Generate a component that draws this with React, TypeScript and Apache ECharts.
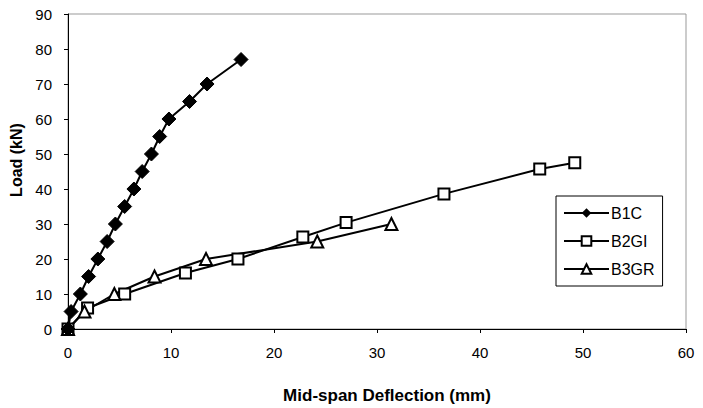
import React, { useEffect, useRef } from "react";
import * as echarts from "echarts";

const seriesNames = ["B1C", "B2GI", "B3GR"];

const b1cDeflection = [0, 0.3, 1.2, 2.0, 2.9, 3.8, 4.6, 5.5, 6.4, 7.2, 8.1, 8.9, 9.8, 11.8, 13.5, 16.8];
const b1cLoad = [0, 5, 10, 15, 20, 25, 30, 35, 40, 45, 50, 55, 60, 65, 70, 77];

const b2giDeflection = [0, 1.9, 5.5, 11.4, 16.5, 22.8, 27.0, 36.5, 45.8, 49.2];
const b2giLoad = [0, 6, 10, 16, 20, 26.3, 30.4, 38.6, 45.7, 47.5];

const b3grDeflection = [0, 1.6, 4.5, 8.4, 13.4, 24.2, 31.4];
const b3grLoad = [0, 5, 10, 15, 20, 25, 30];

const xTitle = "Mid-span Deflection (mm)";
const yTitle = "Load (kN)";

const pair = (xs: number[], ys: number[]) => xs.map((x, i) => [x, ys[i]]);

export default function App() {
  const ref = useRef<HTMLDivElement>(null);
  useEffect(() => {
    if (!ref.current) return;
    const chart = echarts.init(ref.current, null, { renderer: "svg" });
    const font = "'Liberation Sans', Arial, sans-serif";
    const lineStyle = { color: "#000", width: 2 };
    chart.setOption({
      animation: false,
      backgroundColor: "#fff",
      textStyle: { fontFamily: font },
      grid: {
        left: 68,
        right: 17,
        top: 14,
        bottom: 79,
        show: true,
        borderColor: "#999",
        borderWidth: 1,
      },
      xAxis: {
        type: "value",
        min: 0,
        max: 60,
        interval: 10,
        axisLine: { show: true, onZero: false, lineStyle: { color: "#000", width: 1 } },
        axisTick: { show: true, length: 4, lineStyle: { color: "#000" } },
        axisLabel: { color: "#000", fontSize: 15, margin: 16, fontFamily: font },
        splitLine: { show: false },
      },
      yAxis: {
        type: "value",
        min: 0,
        max: 90,
        interval: 10,
        axisLine: { show: true, onZero: false, lineStyle: { color: "#000", width: 1 } },
        axisTick: { show: true, length: 4, lineStyle: { color: "#000" } },
        axisLabel: { color: "#000", fontSize: 15, margin: 16, fontFamily: font },
        splitLine: { show: false },
      },
      legend: {
        orient: "vertical",
        left: 556,
        top: 196,
        data: seriesNames,
        itemWidth: 45,
        itemHeight: 12,
        itemGap: 12,
        padding: [9, 8, 9, 7],
        borderColor: "#000",
        borderWidth: 1,
        backgroundColor: "#fff",
        textStyle: { color: "#000", fontSize: 16, fontFamily: font, padding: [0, 0, 0, -3] },
      },
      graphic: [
        {
          type: "text",
          x: 387,
          y: 395,
          style: {
            text: xTitle,
            font: `bold 17px ${font}`,
            fill: "#000",
            align: "center",
            verticalAlign: "middle",
          },
        },
        {
          type: "text",
          x: 16,
          y: 160,
          rotation: Math.PI / 2,
          style: {
            text: yTitle,
            font: `bold 16px ${font}`,
            fill: "#000",
            align: "center",
            verticalAlign: "middle",
          },
        },
      ],
      series: [
        {
          name: seriesNames[0],
          type: "line",
          data: pair(b1cDeflection, b1cLoad),
          symbol: "diamond",
          symbolSize: 14,
          itemStyle: { color: "#000", borderColor: "#000" },
          lineStyle,
          z: 3,
        },
        {
          name: seriesNames[1],
          type: "line",
          data: pair(b2giDeflection, b2giLoad),
          symbol: "rect",
          symbolSize: 11,
          itemStyle: { color: "#fff", borderColor: "#000", borderWidth: 2 },
          lineStyle,
          z: 2,
        },
        {
          name: seriesNames[2],
          type: "line",
          data: pair(b3grDeflection, b3grLoad),
          symbol: "triangle",
          symbolSize: 12,
          itemStyle: { color: "#fff", borderColor: "#000", borderWidth: 2 },
          lineStyle,
          z: 2,
        },
      ],
    });
    return () => chart.dispose();
  }, []);
  return (
    <div
      ref={ref}
      style={{ position: "absolute", left: 0, top: 0, width: 703, height: 408 }}
    />
  );
}
